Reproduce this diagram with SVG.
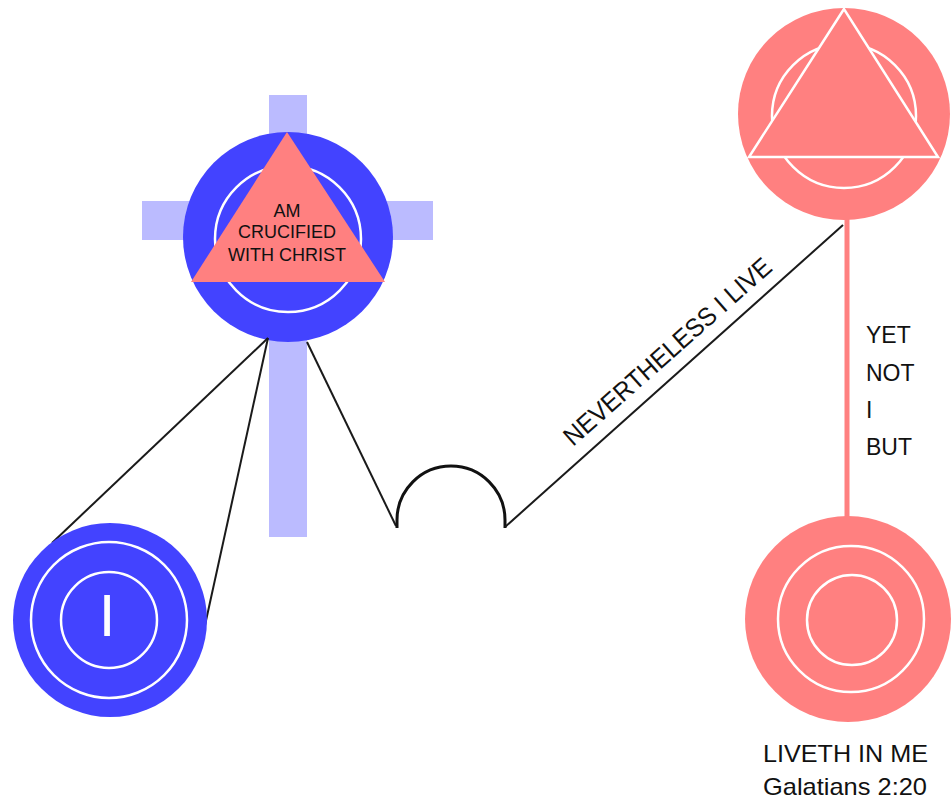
<svg xmlns="http://www.w3.org/2000/svg" width="951" height="800" viewBox="0 0 951 800">
<style>
.blue{fill:#4343ff}
.pink{fill:#ff8080}
.cross{fill:#bbbbff}
.ring{fill:none;stroke:#ffffff;stroke-width:2.5}
.conn{fill:none;stroke:#1a1a1a;stroke-width:2}
.lbl{font-family:"Liberation Sans",Arial,sans-serif;fill:#111111}
</style>
<rect width="951" height="800" fill="#ffffff"/>
<g id="cross-node">
<rect class="cross" x="269" y="95" width="38" height="442"/>
<rect class="cross" x="142" y="201" width="291" height="39"/>
<circle class="blue" cx="288" cy="237" r="105"/>
<circle class="ring" cx="288" cy="239" r="73"/>
<polygon class="pink" points="287,132 191,282 385,282"/>
<text class="lbl" font-size="18" text-anchor="middle" x="287" y="217">AM</text>
<text class="lbl" font-size="18" text-anchor="middle" x="287" y="238">CRUCIFIED</text>
<text class="lbl" font-size="18" text-anchor="middle" x="287" y="261">WITH CHRIST</text>
</g>
<g id="connectors">
<line class="conn" x1="268" y1="338" x2="52" y2="543"/>
<line class="conn" x1="268" y1="338" x2="200" y2="648"/>
<line class="conn" x1="307" y1="342" x2="396" y2="526"/>
<path d="M397,528 L397,520 A54,54 0 0 1 505,520 L505,528" fill="none" stroke="#111111" stroke-width="3"/>
<line class="conn" x1="505" y1="527" x2="843" y2="225"/>
<line x1="847" y1="210" x2="847" y2="520" stroke="#ff8080" stroke-width="5"/>
<text class="lbl" font-size="26" x="573" y="447" transform="rotate(-41.5 573 447)" textLength="268" lengthAdjust="spacingAndGlyphs">NEVERTHELESS I LIVE</text>
<text class="lbl" font-size="23" x="866" y="343">YET</text>
<text class="lbl" font-size="23" x="866" y="381">NOT</text>
<text class="lbl" font-size="23" x="866" y="418">I</text>
<text class="lbl" font-size="23" x="866" y="455">BUT</text>
</g>
<g id="i-node">
<circle class="blue" cx="110" cy="620" r="97"/>
<circle class="ring" cx="109" cy="620" r="78"/>
<circle class="ring" cx="109" cy="620" r="48"/>
<text font-family="Liberation Sans,Arial,sans-serif" font-size="60" fill="#ffffff" text-anchor="middle" x="107" y="636">I</text>
</g>
<g id="trinity-node">
<circle class="pink" cx="844" cy="114" r="106"/>
<circle class="ring" cx="844" cy="116" r="72"/>
<polygon points="844,9 749,157 938,157" fill="#ff8080" stroke="#ffffff" stroke-width="2.5" stroke-linejoin="miter"/>
</g>
<g id="liveth-node">
<circle class="pink" cx="848" cy="619" r="103"/>
<circle class="ring" cx="851" cy="619" r="73"/>
<circle class="ring" cx="852" cy="620" r="45"/>
<text class="lbl" font-size="24" x="763" y="762" textLength="165" lengthAdjust="spacingAndGlyphs">LIVETH IN ME</text>
<text class="lbl" font-size="24" x="763" y="795" textLength="164" lengthAdjust="spacingAndGlyphs">Galatians 2:20</text>
</g>
</svg>
